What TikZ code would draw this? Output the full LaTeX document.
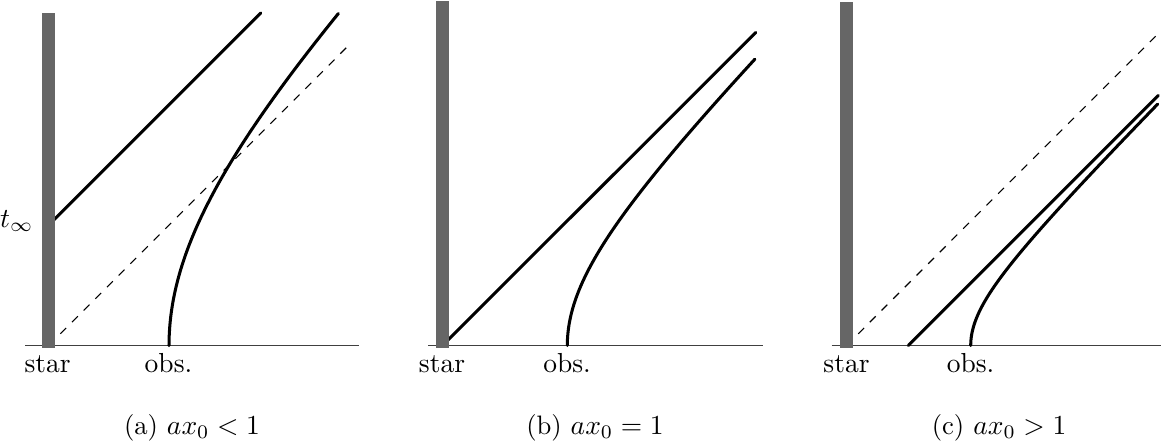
\documentclass[tikz,border=0pt]{standalone}
\begin{document}
\begin{tikzpicture}[x=0.3636pt,y=-0.3636pt,
  worldline/.style={line width=1.1pt,line cap=round},
  lightray/.style={line width=0.4pt,dashed},
  axisline/.style={line width=0.45pt,draw=black!75},
  starbar/.style={fill=black!60,draw=none},
  lab/.style={font=\fontsize{10}{12}\selectfont,inner sep=0pt},
  capt/.style={font=\fontsize{9.7}{11}\selectfont,inner sep=0pt}]
\useasboundingbox (0,0) rectangle (1161,444);

% ---------- panel (a) ----------
\coordinate (Sa) at (48.7,345.5);
\coordinate (axLa) at (25,345.5);
\coordinate (axRa) at (359,345.5);
\coordinate (Ta) at (48.7,225.1);
\coordinate (TaEnd) at (260.7,13);
\coordinate (Da) at (351,43);
\draw[axisline] (axLa) -- (axRa);
\draw[lightray] (Sa) -- (Da);
\draw[worldline] (Ta) -- (TaEnd);
\draw[worldline] plot[domain=0:1.127,samples=80,variable=\u]
  ({48.7-120.4+240.7*cosh(\u)},{345.5-240.7*sinh(\u)});
\fill[starbar] (42.2,13) rectangle (55.2,348);
\node[lab,anchor=base] (stara) at (47.6,372.5) {star};
\node[lab,anchor=base] (obsa) at (168.5,372.5) {obs.};
\node[lab,anchor=base east] (tinf) at (34,227) {$t_\infty$};
\node[capt,anchor=base] (capa) at (192,434) {(a) $ax_0<1$};

% ---------- panel (b) ----------
\coordinate (Sb) at (442.5,345.5);
\coordinate (axLb) at (428.3,345.5);
\coordinate (axRb) at (763.3,345.5);
\coordinate (Lb) at (755.7,32.5);
\draw[axisline] (axLb) -- (axRb);
\draw[worldline] (Sb) -- (Lb);
\draw[worldline] plot[domain=0:1.569,samples=80,variable=\u]
  ({442.5+124.8*cosh(\u)},{345.5-124.8*sinh(\u)});
\fill[starbar] (436,1) rectangle (449,348);
\node[lab,anchor=base] (starb) at (442,372.5) {star};
\node[lab,anchor=base] (obsb) at (567,372.5) {obs.};
\node[capt,anchor=base] (capb) at (595,434) {(b) $ax_0=1$};

% ---------- panel (c) ----------
\coordinate (Sc) at (846.5,345.5);
\coordinate (axLc) at (831.7,345.5);
\coordinate (axRc) at (1161,345.5);
\coordinate (Dc) at (1158.3,33.5);
\coordinate (Hc) at (908.3,345.5);
\coordinate (Lc) at (1158.3,95.5);
\draw[axisline] (axLc) -- (axRc);
\draw[lightray] (Sc) -- (Dc);
\draw[worldline] (Hc) -- (Lc);
\draw[worldline] plot[domain=0:2.063,samples=80,variable=\u]
  ({908.3+62.4*cosh(\u)},{345.5-62.4*sinh(\u)});
\fill[starbar] (840,2.3) rectangle (853,348);
\node[lab,anchor=base] (starc) at (846.5,372.5) {star};
\node[lab,anchor=base] (obsc) at (970.5,372.5) {obs.};
\node[capt,anchor=base] (capc) at (999,434) {(c) $ax_0>1$};
\end{tikzpicture}
\end{document}
